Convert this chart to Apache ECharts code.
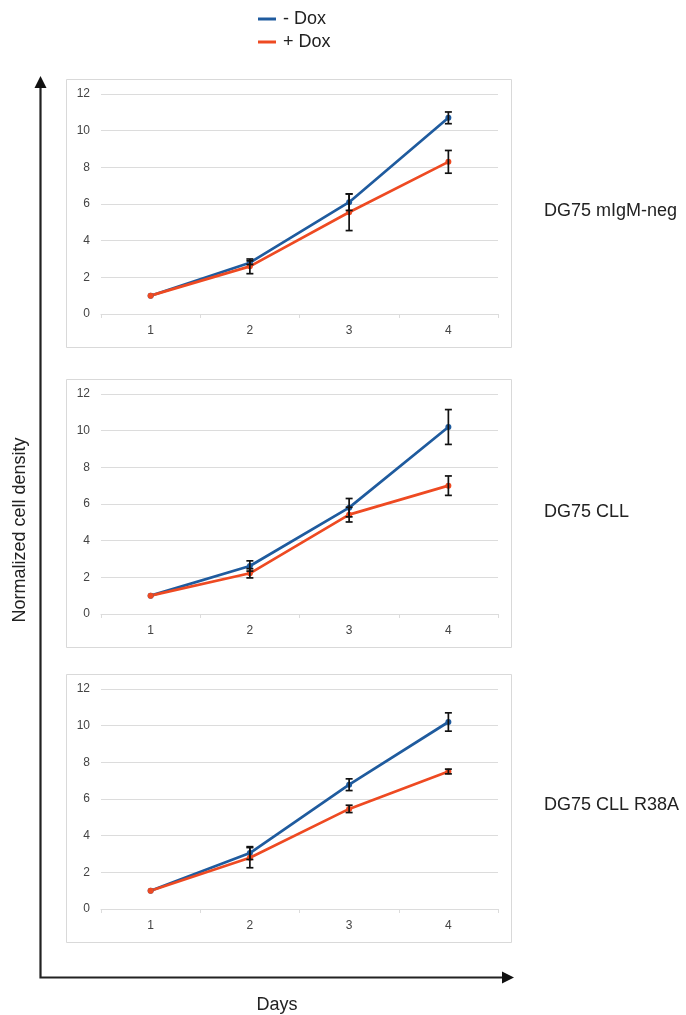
<!DOCTYPE html>
<html>
<head>
<meta charset="utf-8">
<script src="https://cdn.jsdelivr.net/npm/echarts@6/dist/echarts.min.js"></script>
<style>
html,body{margin:0;padding:0;background:#fff;}
#c{width:686px;height:1015px;}
</style>
</head>
<body>
<div id="c"></div>
<script>
// ---- data ----
const days = ['1', '2', '3', '4'];
const yTicks = [0, 2, 4, 6, 8, 10, 12];
const panelNames = ['DG75 mIgM-neg', 'DG75 CLL', 'DG75 CLL R38A'];
const seriesNames = ['- Dox', '+ Dox'];

// panel 1: DG75 mIgM-neg
const p1Minus = [1.0, 2.8, 6.1, 10.7];
const p1MinusErr = [0, 0.1, 0.45, 0.32];
const p1Plus = [1.0, 2.6, 5.55, 8.3];
const p1PlusErr = [0, 0.4, 1.0, 0.62];

// panel 2: DG75 CLL
const p2Minus = [1.0, 2.62, 5.8, 10.2];
const p2MinusErr = [0, 0.28, 0.5, 0.95];
const p2Plus = [1.0, 2.22, 5.42, 7.0];
const p2PlusErr = [0, 0.25, 0.4, 0.53];

// panel 3: DG75 CLL R38A
const p3Minus = [1.0, 3.05, 6.78, 10.2];
const p3MinusErr = [0, 0.35, 0.32, 0.5];
const p3Plus = [1.0, 2.8, 5.46, 7.5];
const p3PlusErr = [0, 0.55, 0.2, 0.13];

const panels = [
  {minus: p1Minus, minusErr: p1MinusErr, plus: p1Plus, plusErr: p1PlusErr},
  {minus: p2Minus, minusErr: p2MinusErr, plus: p2Plus, plusErr: p2PlusErr},
  {minus: p3Minus, minusErr: p3MinusErr, plus: p3Plus, plusErr: p3PlusErr}
];

// ---- style ----
const BLUE = '#1F5B9E';
const RED = '#EE4A22';
const GRIDC = '#dcdcdc';
const TICKC = '#444444';
const FONT = '"Liberation Sans", Arial, sans-serif';

const gridTops = [94, 394, 689];
const boxTops = [79, 379, 674];

const chart = echarts.init(document.getElementById('c'), null, {renderer: 'canvas'});

const grids = [], xAxes = [], yAxes = [], series = [];
const errRender = function (params, api) {
  const x = api.value(0);
  const lo = api.coord([x, api.value(1)]);
  const hi = api.coord([x, api.value(2)]);
  const w = 3.5;
  const st = {stroke: '#111', lineWidth: 1.7};
  return {
    type: 'group',
    children: [
      {type: 'line', shape: {x1: lo[0], y1: lo[1], x2: hi[0], y2: hi[1]}, style: st},
      {type: 'line', shape: {x1: lo[0] - w, y1: lo[1], x2: lo[0] + w, y2: lo[1]}, style: st},
      {type: 'line', shape: {x1: hi[0] - w, y1: hi[1], x2: hi[0] + w, y2: hi[1]}, style: st}
    ]
  };
};

panels.forEach((p, i) => {
  grids.push({left: 101, width: 397, top: gridTops[i], height: 220});
  xAxes.push({
    type: 'category', gridIndex: i, data: days, boundaryGap: true,
    axisLine: {lineStyle: {color: GRIDC, width: 1}},
    axisTick: {show: true, length: 4, lineStyle: {color: GRIDC}},
    axisLabel: {color: TICKC, fontSize: 12, fontFamily: FONT, margin: 11},
    splitLine: {show: false}
  });
  yAxes.push({
    type: 'value', gridIndex: i, min: yTicks[0], max: yTicks[yTicks.length - 1], interval: 2,
    axisLine: {show: false}, axisTick: {show: false},
    axisLabel: {color: TICKC, fontSize: 12, fontFamily: FONT, margin: 11},
    splitLine: {lineStyle: {color: GRIDC, width: 1}}
  });
  const mk = (name, vals, color) => ({
    name: name, type: 'line', xAxisIndex: i, yAxisIndex: i, data: vals,
    symbol: 'circle', symbolSize: 6, showSymbol: true,
    lineStyle: {color: color, width: 2.7},
    itemStyle: {color: color},
    z: 3, animation: false
  });
  series.push(mk(seriesNames[0], p.minus, BLUE));
  series.push(mk(seriesNames[1], p.plus, RED));
  const errData = [];
  p.minus.forEach((v, k) => { if (p.minusErr[k] > 0) errData.push([k, v - p.minusErr[k], v + p.minusErr[k]]); });
  p.plus.forEach((v, k) => { if (p.plusErr[k] > 0) errData.push([k, v - p.plusErr[k], v + p.plusErr[k]]); });
  series.push({
    type: 'custom', xAxisIndex: i, yAxisIndex: i, data: errData,
    renderItem: errRender, z: 5, animation: false, silent: true
  });
});

const graphics = [];
// panel boxes
boxTops.forEach(t => {
  graphics.push({type: 'rect', shape: {x: 66.5, y: t + 0.5, width: 445, height: 268},
    style: {fill: 'none', stroke: '#d9d9d9', lineWidth: 1}, z: -1});
});
// panel names
const nameYs = [212, 513, 806];
panelNames.forEach((n, i) => {
  graphics.push({type: 'text', left: 544, top: nameYs[i] - 10,
    style: {text: n, fontSize: 18, fontFamily: FONT, fill: '#222'}});
});
// big axes
graphics.push({type: 'polyline', shape: {points: [[40.5, 86], [40.5, 977.5], [505, 977.5]]},
  style: {stroke: '#222', lineWidth: 2.2, fill: 'none'}});
graphics.push({type: 'polygon', shape: {points: [[40.5, 76], [34.5, 88], [46.5, 88]]}, style: {fill: '#111'}});
graphics.push({type: 'polygon', shape: {points: [[514, 977.5], [502, 971.5], [502, 983.5]]}, style: {fill: '#111'}});
graphics.push({type: 'text', x: 277, y: 1005,
  style: {text: 'Days', fontSize: 18, fontFamily: FONT, fill: '#222', align: 'center', verticalAlign: 'middle'}});
graphics.push({type: 'text', x: 20, y: 530, rotation: Math.PI / 2,
  style: {text: 'Normalized cell density', fontSize: 18, fontFamily: FONT, fill: '#222', align: 'center', verticalAlign: 'middle'}});

chart.setOption({
  animation: false,
  backgroundColor: '#fff',
  legend: {
    orient: 'vertical', left: 258, top: 10, padding: 0,
    itemWidth: 18, itemHeight: 3, itemGap: 5,
    icon: 'rect',
    data: [
      {name: seriesNames[0], itemStyle: {color: BLUE}},
      {name: seriesNames[1], itemStyle: {color: RED}}
    ],
    textStyle: {fontSize: 18, fontFamily: FONT, color: '#222', lineHeight: 18, padding: [0, 0, 0, 2]},
    selectedMode: false
  },
  grid: grids, xAxis: xAxes, yAxis: yAxes, series: series, graphic: graphics
});
</script>
</body>
</html>
